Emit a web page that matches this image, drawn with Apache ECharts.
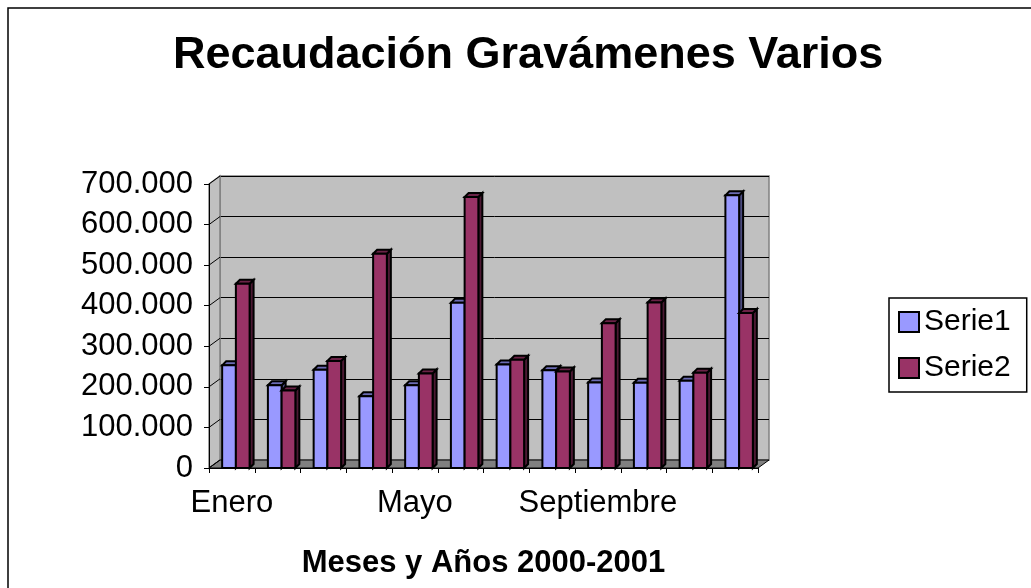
<!DOCTYPE html>
<html>
<head>
<meta charset="utf-8">
<title>Recaudación Gravámenes Varios</title>
<script src="https://cdn.jsdelivr.net/npm/echarts@6/dist/echarts.min.js"></script>
<style>
  html, body { margin: 0; padding: 0; background: #fff; }
  #chart { width: 1031px; height: 588px; }
</style>
</head>
<body>
<div id="chart"></div>
<script>
// datos
const meses = ['Enero', 'Febrero', 'Marzo', 'Abril', 'Mayo', 'Junio', 'Julio', 'Agosto', 'Septiembre', 'Octubre', 'Noviembre', 'Diciembre']
const serie1 = [253000, 204000, 242000, 177000, 204000, 407000, 255000, 241000, 211000, 210000, 215000, 672000]
const serie2 = [454000, 191000, 264000, 528000, 233000, 668000, 267000, 238000, 357000, 408000, 235000, 382000]
const yTicks = [0, 100000, 200000, 300000, 400000, 500000, 600000, 700000]

const FONT = '"Liberation Sans", Arial, sans-serif'
const DX = 11 // profundidad de la pared del fondo
const DY = 8

function miles (v) {
  if (v === 0) return '0'
  return (v / 1000) + '.000'
}

// barra 3D: cara frontal, lateral y superior
function barra3D (lado, frente, lateral, arriba) {
  return function (params, api) {
    const idx = api.value(0)
    const top = api.coord([idx, api.value(1)])
    const base = api.coord([idx, 0])
    const band = api.size([1, 0])[0]
    const w = band * 0.3
    const x0 = top[0] + 4 + (lado < 0 ? -w : 0)
    const d = 4
    const linea = { stroke: '#000', lineWidth: 2, lineJoin: 'miter' }
    return {
      type: 'group',
      children: [
        { type: 'polygon', shape: { points: [[x0 + w, top[1]], [x0 + w + d, top[1] - d], [x0 + w + d, base[1] - d], [x0 + w, base[1]]] }, style: Object.assign({ fill: lateral }, linea) },
        { type: 'polygon', shape: { points: [[x0, top[1]], [x0 + d, top[1] - d], [x0 + w + d, top[1] - d], [x0 + w, top[1]]] }, style: Object.assign({ fill: arriba }, linea) },
        { type: 'rect', shape: { x: x0, y: top[1], width: w, height: base[1] - top[1] }, style: Object.assign({ fill: frente }, linea) }
      ]
    }
  }
}

const chart = echarts.init(document.getElementById('chart'))

chart.setOption({
  backgroundColor: '#fff',
  animation: false,
  textStyle: { fontFamily: FONT },
  title: {
    text: 'Recaudación Gravámenes Varios',
    left: 168,
    top: 28,
    textStyle: { fontSize: 45, fontWeight: 'bold', color: '#000', fontFamily: FONT }
  },
  legend: {
    data: ['Serie1', 'Serie2'],
    orient: 'vertical',
    left: 889,
    top: 298,
    padding: [9, 16, 9, 9],
    itemGap: 16,
    itemWidth: 20,
    itemHeight: 20,
    icon: 'rect',
    borderColor: '#000',
    borderWidth: 1.5,
    itemStyle: { borderColor: '#000', borderWidth: 2 },
    textStyle: { fontSize: 30, color: '#000', fontFamily: FONT }
  },
  grid: [
    { left: 209, right: 273, top: 184, bottom: 120, show: false },
    { left: 209 + DX, right: 273 - DX, top: 184 - DY, bottom: 120 + DY, show: true, backgroundColor: '#c0c0c0', borderColor: '#808080', borderWidth: 1.5 }
  ],
  xAxis: [
    {
      type: 'category',
      gridIndex: 0,
      data: meses,
      boundaryGap: true,
      axisLine: { lineStyle: { color: '#000', width: 1 } },
      axisTick: { show: true, interval: 0, length: 5, lineStyle: { color: '#000' } },
      axisLabel: { interval: 3, margin: 20, fontSize: 31, color: '#000', fontFamily: FONT },
      name: 'Meses y Años 2000-2001',
      nameLocation: 'middle',
      nameGap: 80,
      nameTextStyle: { fontSize: 31, fontWeight: 'bold', color: '#000', fontFamily: FONT },
      z: 5
    },
    { type: 'category', gridIndex: 1, data: meses, show: false }
  ],
  yAxis: [
    {
      type: 'value',
      gridIndex: 0,
      min: 0,
      max: 700000,
      interval: 100000,
      axisLine: { show: true, lineStyle: { color: '#000', width: 1 } },
      axisTick: { show: true, length: 5, lineStyle: { color: '#000' } },
      axisLabel: { margin: 16, fontSize: 31, color: '#000', fontFamily: FONT, formatter: miles },
      splitLine: { show: false },
      z: 5
    },
    {
      type: 'value',
      gridIndex: 1,
      min: 0,
      max: 700000,
      interval: 100000,
      axisLine: { show: false },
      axisTick: { show: false },
      axisLabel: { show: false },
      splitLine: { show: true, lineStyle: { color: '#000', width: 1 } }
    }
  ],
  series: [
    {
      name: 'Serie1',
      type: 'custom',
      xAxisIndex: 0,
      yAxisIndex: 0,
      itemStyle: { color: '#9999ff' },
      renderItem: barra3D(-1, '#9999ff', '#4c4c80', '#6b6bb3'),
      encode: { x: 0, y: 1 },
      data: serie1.map((v, i) => [i, v]),
      z: 3
    },
    {
      name: 'Serie2',
      type: 'custom',
      xAxisIndex: 0,
      yAxisIndex: 0,
      itemStyle: { color: '#993366' },
      renderItem: barra3D(1, '#993366', '#4c1933', '#6b2347'),
      encode: { x: 0, y: 1 },
      data: serie2.map((v, i) => [i, v]),
      z: 4
    }
  ]
})

// pared izquierda, piso y marco, a partir de las escalas del grafico
const p0 = chart.convertToPixel({ gridIndex: 0 }, [0, 0])
const band = chart.convertToPixel({ gridIndex: 0 }, [1, 0])[0] - p0[0]
const xIzq = p0[0] - band / 2
const xDer = xIzq + band * meses.length
const yBase = p0[1]
const yTope = chart.convertToPixel({ gridIndex: 0 }, [0, yTicks[yTicks.length - 1]])[1]

const diagonales = yTicks.map(t => {
  const y = chart.convertToPixel({ gridIndex: 0 }, [0, t])[1]
  return { type: 'line', z: 1, shape: { x1: xIzq, y1: y, x2: xIzq + DX, y2: y - DY }, style: { stroke: '#000', lineWidth: 1 } }
})

chart.setOption({
  graphic: [
    { type: 'rect', z: 0, shape: { x: 8, y: 8, width: 1100, height: 700 }, style: { fill: 'none', stroke: '#000', lineWidth: 1.5 } },
    { type: 'polygon', z: 1, shape: { points: [[xIzq, yTope], [xIzq + DX, yTope - DY], [xIzq + DX, yBase - DY], [xIzq, yBase]] }, style: { fill: '#c0c0c0', stroke: '#808080', lineWidth: 1.5 } },
    { type: 'polygon', z: 1, shape: { points: [[xIzq, yBase], [xIzq + DX, yBase - DY], [xDer + DX, yBase - DY], [xDer, yBase]] }, style: { fill: '#808080', stroke: '#000', lineWidth: 1 } }
  ].concat(diagonales)
})
</script>
</body>
</html>
